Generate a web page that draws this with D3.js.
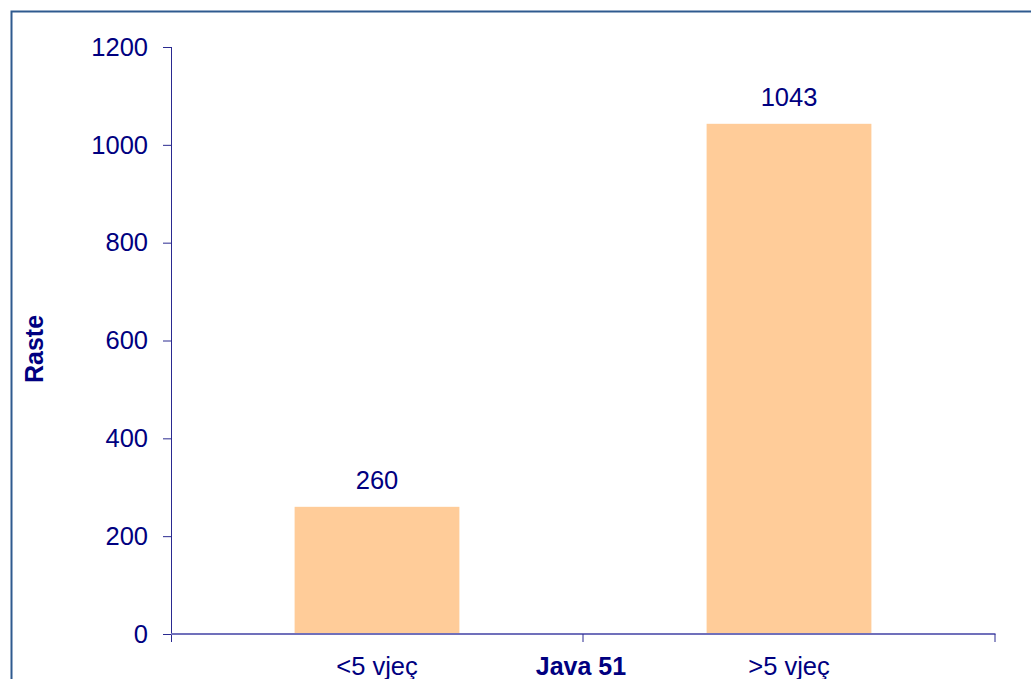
<!DOCTYPE html>
<html>
 <head>
 <meta charset="UTF-8">
 <style type="text/css">
  body { margin: 0; background: #fff; }
  text { font-family: "Liberation Sans", Arial, sans-serif; fill: #000080; }
 </style>
 <script src="https://d3js.org/d3.v7.min.js"></script>
 </head>
 <body>
 <script type="text/javascript">

    var categories = ["<5 vjeç", ">5 vjeç"];
    var values = [260, 1043];
    var yTicks = [0, 200, 400, 600, 800, 1000, 1200];
    var xTitle = "Java 51";
    var yTitle = "Raste";

    var W = 1031, H = 679;
    var plotLeft = 171, plotRight = 995, plotTop = 47, plotBottom = 634;
    var fs = "25.5px";

    var svg = d3.select("body")
        .append("svg")
        .attr("width", W)
        .attr("height", H);

    // outer frame (only top and left edges visible)
    svg.append("path")
        .attr("d", "M11.5," + H + "V11.5H" + W)
        .attr("fill", "none")
        .attr("stroke", "#2f5a8f")
        .attr("stroke-width", 2);

    var x = d3.scaleBand()
        .domain(categories)
        .range([plotLeft, plotRight])
        .paddingInner(0)
        .paddingOuter(0);

    var y = d3.scaleLinear()
        .domain([0, 1200])
        .range([plotBottom, plotTop]);

    // bars
    var barW = x.bandwidth() * 0.4;
    svg.selectAll(".bar")
        .data(values)
        .enter().append("rect")
        .attr("class", "bar")
        .attr("x", function(d, i) { return x(categories[i]) + (x.bandwidth() - barW) / 2; })
        .attr("y", function(d) { return y(d); })
        .attr("width", barW)
        .attr("height", function(d) { return plotBottom - y(d); })
        .attr("fill", "#ffcc99");

    // value labels
    svg.selectAll(".val")
        .data(values)
        .enter().append("text")
        .attr("x", function(d, i) { return x(categories[i]) + x.bandwidth() / 2; })
        .attr("y", function(d) { return y(d) - 18; })
        .attr("text-anchor", "middle")
        .attr("font-size", fs)
        .text(function(d) { return d; });

    // y axis
    var y_axis = d3.axisLeft(y).tickValues(yTicks).tickFormat(d3.format("d"))
        .tickSize(8).tickPadding(15);
    var gy = svg.append("g")
        .attr("transform", "translate(" + plotLeft + ",0)")
        .call(y_axis);
    gy.select(".domain").remove();
    gy.append("line")
        .attr("x1", 0.5).attr("x2", 0.5)
        .attr("y1", plotTop).attr("y2", plotBottom + 8)
        .attr("stroke", "#2a2a90");
    gy.selectAll(".tick line").attr("stroke", "#2a2a90");
    gy.selectAll(".tick text")
        .attr("font-size", fs)
        .style("fill", "#000080");

    // x axis
    var gx = svg.append("g");
    gx.append("line")
        .attr("x1", plotLeft).attr("x2", plotRight + 0.5)
        .attr("y1", plotBottom).attr("y2", plotBottom)
        .attr("stroke", "#7070bb")
        .attr("stroke-width", 2);
    var bounds = [x(categories[0]) + x.bandwidth(), x(categories[1]) + x.bandwidth()];
    gx.selectAll(".xt")
        .data(bounds)
        .enter().append("line")
        .attr("x1", function(d) { return d; })
        .attr("x2", function(d) { return d; })
        .attr("y1", plotBottom)
        .attr("y2", plotBottom + 8)
        .attr("stroke", "#2a2a90");

    gx.selectAll(".cat")
        .data(categories)
        .enter().append("text")
        .attr("x", function(d) { return x(d) + x.bandwidth() / 2; })
        .attr("y", 675)
        .attr("text-anchor", "middle")
        .attr("font-size", fs)
        .text(function(d) { return d; });

    // axis titles
    svg.append("text")
        .attr("x", (plotLeft + plotRight) / 2 - 2)
        .attr("y", 675)
        .attr("text-anchor", "middle")
        .attr("font-size", "25px")
        .attr("font-weight", "bold")
        .text(xTitle);

    svg.append("text")
        .attr("transform", "translate(43,349) rotate(-90)")
        .attr("text-anchor", "middle")
        .attr("font-size", "25px")
        .attr("font-weight", "bold")
        .text(yTitle);

 </script>
 </body>
</html>
